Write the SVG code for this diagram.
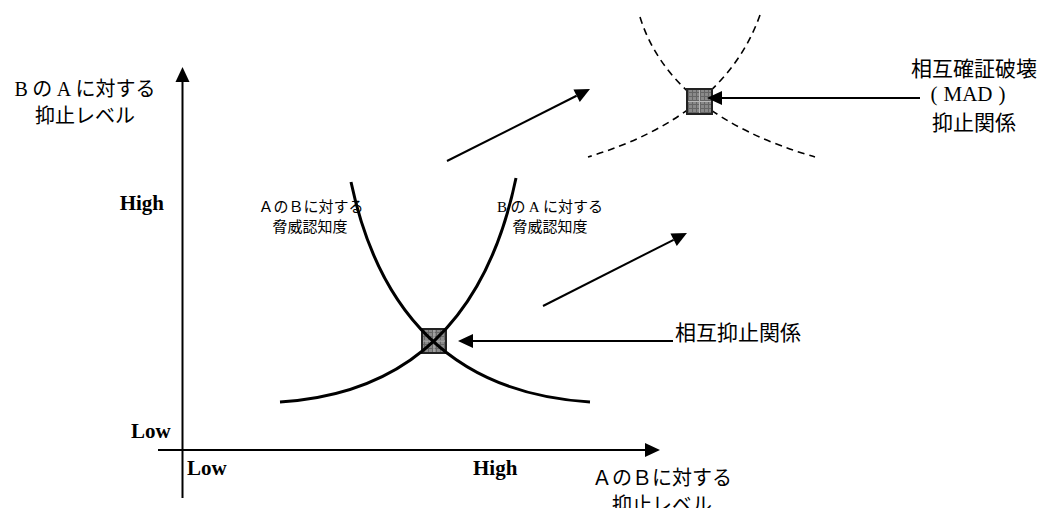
<svg xmlns="http://www.w3.org/2000/svg" width="1038" height="508" viewBox="0 0 1038 508">
<style>
.jp{font-family:"Noto Sans CJK JP","Noto Sans",sans-serif;fill:#000}
.ser{font-family:"Liberation Serif","Noto Sans CJK JP",serif}
.hl{font-family:"Liberation Serif",serif;font-weight:bold;font-size:21px;fill:#000}
.axis{stroke:#000;stroke-width:2;fill:none;marker-end:url(#ah)}
.curve{stroke:#000;stroke-width:3;fill:none}
.dash{stroke:#000;stroke-width:1.6;fill:none;stroke-dasharray:7 5}
.arr{stroke:#000;stroke-width:2;fill:none;marker-end:url(#ah)}
.sq{stroke:#222;stroke-width:2;fill:url(#hatch)}
.grid{stroke:#b8b8b8;stroke-width:1;fill:none}
</style>
<defs>
<marker id="ah" markerUnits="userSpaceOnUse" markerWidth="16" markerHeight="16" refX="0" refY="7" orient="auto" overflow="visible"><path d="M0,0 L15,7 L0,14 z" fill="#000"/></marker>
<pattern id="hatch" patternUnits="userSpaceOnUse" width="4" height="4"><rect width="4" height="4" fill="#8a8a8a"/><path d="M0,0.5H4M0.5,0V4" stroke="#666" stroke-width="1"/></pattern>
</defs>
<rect width="1038" height="508" fill="#fff"/>

<g id="mutual-node">
<rect class="sq" x="422" y="329" width="24" height="24"/>
<path class="grid" d="M434,330V352M423,341H445"/>
</g>

<g id="curves">
<path class="curve" d="M351,182 Q395,390 590,402"/>
<path class="curve" d="M516,178 Q472,390 280,402"/>
<path class="dash" d="M640,17 Q670.5,115 815,157"/>
<path class="dash" d="M760,15 Q724,116 588,157"/>
</g>

<g id="mad-node">
<rect class="sq" x="687" y="89" width="25" height="25"/>
<path class="grid" d="M699.5,90V113M688,101.5H711"/>
</g>

<g id="connectors">
<line class="axis" x1="182.5" y1="498" x2="182.5" y2="82"/>
<line class="axis" x1="158" y1="450" x2="645" y2="450"/>
<line class="arr" x1="673" y1="341" x2="473" y2="341"/>
<line class="arr" x1="920" y1="98" x2="722" y2="98"/>
<line class="arr" x1="447" y1="161" x2="576.6" y2="95.75"/>
<line class="arr" x1="543" y1="306" x2="673.6" y2="239.8"/>
</g>

<g id="y-axis-label" class="jp" font-size="20" text-anchor="middle">
<text x="85" y="96"><tspan class="ser">B</tspan> の <tspan class="ser">A</tspan> に対する</text>
<text x="85" y="123">抑止レベル</text>
</g>

<g id="x-axis-label" class="jp" font-size="20" text-anchor="middle">
<text x="662" y="485">ＡのＢに対する</text>
<text x="662" y="512">抑止レベル</text>
</g>

<g id="ticks">
<text class="hl" x="164" y="210" text-anchor="end">High</text>
<text class="hl" x="131" y="438">Low</text>
<text class="hl" x="187" y="475">Low</text>
<text class="hl" x="473" y="475">High</text>
</g>

<g id="label-a-threat" class="jp" font-size="15" text-anchor="middle">
<text x="311" y="212">ＡのＢに対する</text>
<text x="310" y="232">脅威認知度</text>
</g>

<g id="label-b-threat" class="jp" font-size="15" text-anchor="middle">
<text x="550" y="212"><tspan class="ser">B</tspan> の <tspan class="ser">A</tspan> に対する</text>
<text x="550" y="232">脅威認知度</text>
</g>

<g id="label-mutual" class="jp" font-size="21">
<text x="675" y="340">相互抑止関係</text>
</g>

<g id="label-mad" class="jp" font-size="21" text-anchor="middle">
<text x="974" y="76">相互確証破壊</text>
<text x="968" y="101" class="ser">(<tspan dx="6">MAD</tspan><tspan dx="6">)</tspan></text>
<text x="974" y="130">抑止関係</text>
</g>
</svg>
